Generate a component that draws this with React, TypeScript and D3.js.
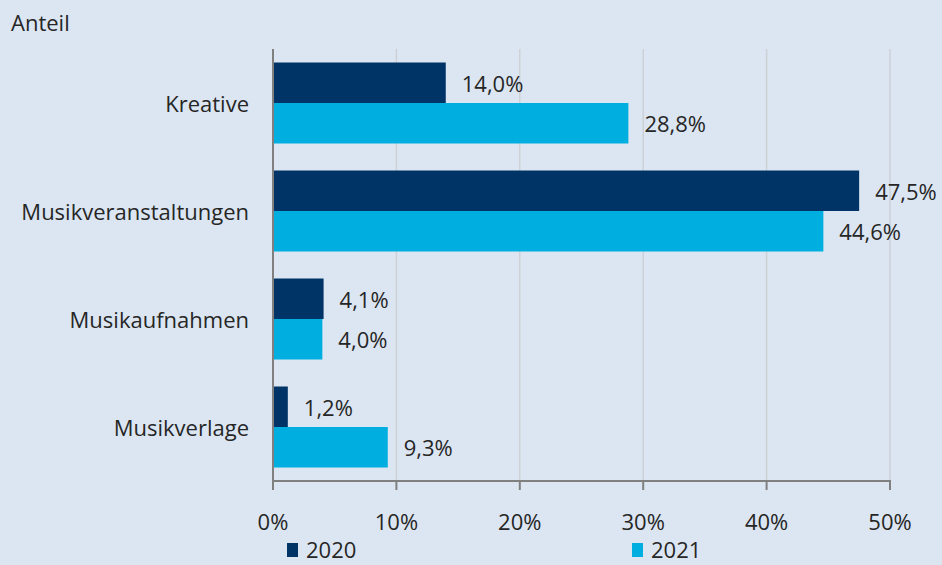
import React from "react";
import * as d3 from "d3";

const categories = ["Kreative", "Musikveranstaltungen", "Musikaufnahmen", "Musikverlage"];
const seriesNames = ["2020", "2021"];
const values2020 = [14.0, 47.5, 4.1, 1.2];
const values2021 = [28.8, 44.6, 4.0, 9.3];
const xTicks = [0, 10, 20, 30, 40, 50];
const colors = ["#003366", "#00aedf"];

const W = 942;
const H = 565;
const FONT = "'Open Sans', 'Noto Sans', sans-serif";
const FS = 22;
const TEXT = "#262626";

export default function App() {
  const x = d3.scaleLinear().domain([0, 50]).range([273, 890]);
  const y = d3.scaleBand<string>().domain(categories).range([49, 481]).paddingInner(0.25).paddingOuter(0.125);
  const ys = d3.scaleBand<string>().domain(seriesNames).range([0, y.bandwidth()]);
  const seriesValues = [values2020, values2021];
  const fmt = (v: number) => v.toFixed(1).replace(".", ",") + "%";

  return (
    <svg width={W} height={H} style={{ position: "absolute", left: 0, top: 0, display: "block" }}>
      <rect x={0} y={0} width={W} height={H} fill="#dce6f2" />
      <text x={11} y={22} dominantBaseline="central" fontFamily={FONT} fontSize={FS} fill={TEXT}>Anteil</text>
      {xTicks.slice(1).map((t) => (
        <line key={"g" + t} x1={x(t)} x2={x(t)} y1={49} y2={481} stroke="#cdd1d6" strokeWidth={1.5} />
      ))}
      {categories.map((c, i) =>
        seriesNames.map((s, j) => {
          const v = seriesValues[j][i];
          const y0 = (y(c) as number) + (ys(s) as number);
          return (
            <g key={c + s}>
              <rect x={x(0)} y={y0} width={x(v) - x(0)} height={ys.bandwidth()} fill={colors[j]} />
              <text x={x(v) + 16} y={y0 + ys.bandwidth() / 2} dominantBaseline="central" fontFamily={FONT} fontSize={FS} fill={TEXT}>
                {fmt(v)}
              </text>
            </g>
          );
        })
      )}
      {categories.map((c) => (
        <text key={"l" + c} x={249} y={(y(c) as number) + y.bandwidth() / 2} textAnchor="end" dominantBaseline="central" fontFamily={FONT} fontSize={FS} fill={TEXT}>
          {c}
        </text>
      ))}
      <line x1={x(0)} x2={x(0)} y1={49} y2={481} stroke="#808080" strokeWidth={2} />
      <line x1={x(0) - 1} x2={x(50) + 1} y1={481} y2={481} stroke="#808080" strokeWidth={2} />
      {xTicks.map((t) => (
        <g key={"t" + t}>
          <line x1={x(t)} x2={x(t)} y1={481} y2={490} stroke="#808080" strokeWidth={2} />
          <text x={x(t)} y={521} textAnchor="middle" dominantBaseline="central" fontFamily={FONT} fontSize={FS} fill={TEXT}>
            {t + "%"}
          </text>
        </g>
      ))}
      {seriesNames.map((s, j) => {
        const lx = j === 0 ? 287 : 632;
        return (
          <g key={"lg" + s}>
            <rect x={lx} y={543} width={11} height={14} fill={colors[j]} />
            <text x={lx + 19} y={549} dominantBaseline="central" fontFamily={FONT} fontSize={FS} fill={TEXT}>{s}</text>
          </g>
        );
      })}
    </svg>
  );
}
